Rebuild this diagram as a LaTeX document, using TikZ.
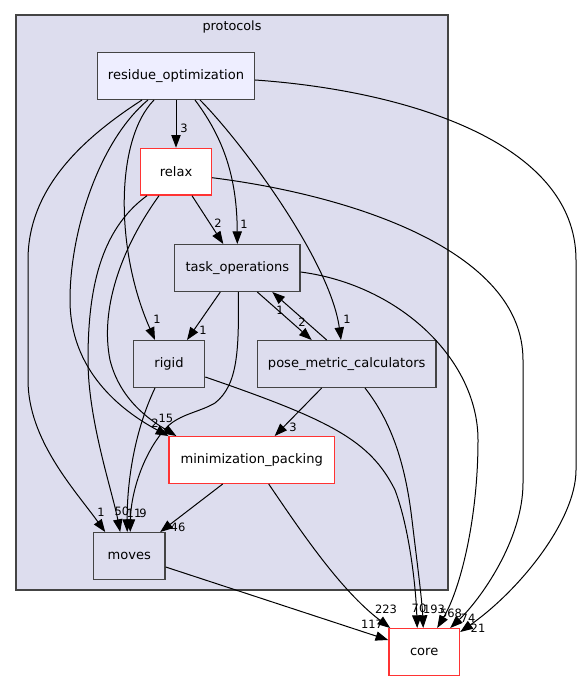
\documentclass[tikz,border=0pt]{standalone}
\usepackage{fontspec}
\setmainfont{DejaVu Sans}
\usetikzlibrary{arrows.meta,calc}
\definecolor{clusterfill}{HTML}{DDDDEE}
\definecolor{mainfill}{HTML}{EEEEFF}
\definecolor{boxline}{HTML}{444444}
\definecolor{redline}{HTML}{FF3333}
\begin{document}
\begin{tikzpicture}[x=0.75pt,y=-0.75pt,
  dirbox/.style={draw=boxline,line width=1pt,fill=clusterfill,minimum height=35pt,inner sep=0pt,font=\fontsize{9.8}{12}\selectfont},
  redbox/.style={dirbox,draw=redline,fill=white},
  dep/.style={draw=black,line width=0.75pt,-{Triangle[length=9.5pt,width=7pt]}},
  lab/.style={inner sep=0pt,font=\fontsize{8.6}{10}\selectfont}]
\path[fill=white] (0,0) rectangle (581,681);
\useasboundingbox (0,0) rectangle (581,681);
\draw[draw=boxline,line width=1pt,fill=clusterfill] (16,15) rectangle (448,590);
\node[inner sep=0pt,font=\fontsize{9.6}{11}\selectfont] (cl) at (232,27) {protocols};

\node[dirbox,fill=mainfill,minimum width=117.5pt] (RO) at (176,76) {residue\_optimization};
\node[redbox,minimum width=53pt] (relax) at (176,171.7) {relax};
\node[dirbox,minimum width=94pt] (TO) at (237.3,268) {task\_operations};
\node[dirbox,minimum width=53.4pt] (rigid) at (169,364) {rigid};
\node[dirbox,minimum width=134pt] (PMC) at (346.7,364) {pose\_metric\_calculators};
\node[redbox,minimum width=124pt] (MP) at (251.7,460) {minimization\_packing};
\node[dirbox,minimum width=53.75pt] (moves) at (129.2,556) {moves};
\node[redbox,minimum width=53pt] (core) at (424.2,652) {core};

% residue_optimization
\draw[dep] (RO.south) -- (relax.north);
\draw[dep] ($(RO.south)+(19,0)$) .. controls (225,140) and (237,180) .. (TO.north);
\draw[dep] ($(RO.south)+(24,0)$) .. controls (240,140) and (330,260) .. ($(PMC.north)+(-5.7,0)$);
\draw[dep] ($(RO.south)+(-22,0)$) .. controls (115,140) and (115,250) .. ($(rigid.north)+(-14,0)$);
\draw[dep] ($(RO.south)+(-28,0)$) .. controls (100,140) and (70,230) .. (70,300) .. controls (70,370) and (120,410) .. (MP.north west);
\draw[dep] ($(RO.south)+(-34,0)$) .. controls (80,140) and (28,190) .. (28,260) -- (28,380) .. controls (28,440) and (75,490) .. ($(moves.north)+(-24,0)$);
\draw[dep] ($(RO.east)+(0,4)$) .. controls (400,90) and (576,140) .. (576,260) -- (576,470) .. controls (576,520) and (520,590) .. ($(core.north east)+(0,4)$);

% relax
\draw[dep] ($(relax.south)+(16,0)$) -- ($(TO.north)+(-14,0)$);
\draw[dep] ($(relax.south)+(-17,0)$) .. controls (120,250) and (100,310) .. (110,360) .. controls (120,400) and (150,420) .. ($(MP.north west)+(8,0)$);
\draw[dep] ($(relax.south)+(-29,0)$) .. controls (100,230) and (88,290) .. (88,360) .. controls (88,420) and (112,490) .. ($(moves.north)+(-9,0)$);
\draw[dep] ($(relax.east)+(0,6)$) .. controls (350,195) and (523,250) .. (523,360) -- (523,483) .. controls (523,540) and (480,600) .. ($(core.north)+(26,0)$);

% task_operations
\draw[dep] ($(TO.south)+(-17,0)$) -- ($(rigid.north)+(18,0)$);
\draw[dep] ($(TO.south)+(20,0)$) -- ($(PMC.north)+(-35,0)$);
\draw[dep] ($(PMC.north)+(-20,0)$) -- ($(TO.south)+(35,0)$);
\draw[dep] ($(TO.south)+(1,0)$) .. controls (239,350) and (238,385) .. (215,403) .. controls (200,412) and (180,414) .. (167,427) .. controls (145,450) and (131,490) .. ($(moves.north)+(1,0)$);
\draw[dep] ($(TO.east)+(0,4)$) .. controls (400,285) and (478,360) .. (478,440) .. controls (478,520) and (460,590) .. ($(core.north)+(13,0)$);

% rigid
\draw[dep] ($(rigid.south)+(-14,0)$) .. controls (135,430) and (127,480) .. ($(moves.north)+(-2,0)$);
\draw[dep] ($(rigid.east)+(0,13)$) .. controls (330,420) and (370,440) .. (395,490) .. controls (410,530) and (416,590) .. ($(core.north)+(-7,0)$);

% pose_metric_calculators
\draw[dep] ($(PMC.south)+(-25,0)$) -- ($(MP.north)+(23,0)$);
\draw[dep] ($(PMC.south)+(18.3,0)$) .. controls (390,420) and (405,460) .. (412,520) .. controls (418,570) and (422,600) .. ($(core.north)+(-1,0)$);

% minimization_packing
\draw[dep] ($(MP.south)+(-29,0)$) -- ($(moves.north)+(31,0)$);
\draw[dep] ($(MP.south)+(17,0)$) .. controls (300,530) and (340,590) .. ($(core.north west)+(2,0)$);

% moves
\draw[dep] ($(moves.east)+(0,11)$) -- ($(core.west)+(0,-12)$);

% labels
\node[lab] (a1) at (184,128) {3};
\node[lab] (a2) at (244,224) {1};
\node[lab] (a3) at (347,319) {1};
\node[lab] (a4) at (157,319) {1};
\node[lab] (a5) at (155,423) {2};
\node[lab] (a6) at (101,512) {1};
\node[lab] (a7) at (478,628) {21};
\node[lab] (b1) at (218,223) {2};
\node[lab] (b2) at (166,418) {15};
\node[lab] (b3) at (122,511) {50};
\node[lab] (b4) at (468,618) {74};
\node[lab] (c1) at (203,330) {1};
\node[lab] (c2) at (302,322) {2};
\node[lab] (c3) at (280,310) {1};
\node[lab] (c4) at (143,513) {9};
\node[lab] (c5) at (451,613) {568};
\node[lab] (d1) at (134,513) {11};
\node[lab] (d2) at (419,608) {70};
\node[lab] (e1) at (293,427) {3};
\node[lab] (e2) at (434,609) {193};
\node[lab] (f1) at (178,527) {46};
\node[lab] (f2) at (386,609) {223};
\node[lab] (g1) at (372,624) {117};
\end{tikzpicture}
\end{document}
